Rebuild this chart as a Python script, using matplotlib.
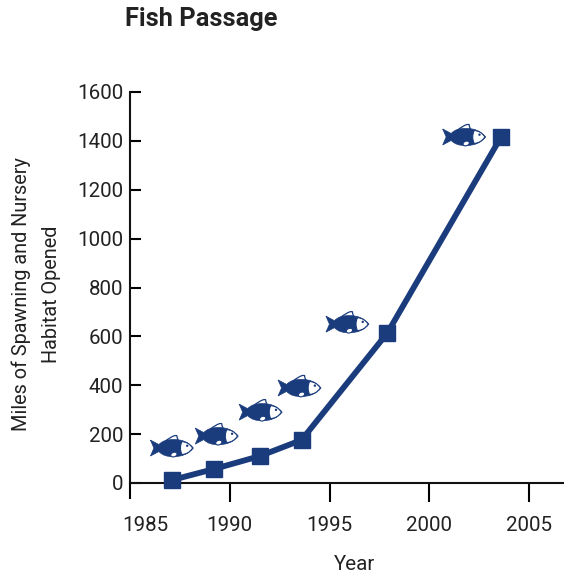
import matplotlib
matplotlib.use('Agg')
from matplotlib import pyplot as plt
from matplotlib.patches import PathPatch, Ellipse
from matplotlib.path import Path
from matplotlib.transforms import Affine2D, ScaledTranslation

# data
years = [1987.1, 1989.2, 1991.5, 1993.6, 1997.9, 2003.6]
miles = [12, 57, 110, 176, 614, 1416]
fish_years = [1987.1, 1989.35, 1991.55, 1993.5, 1995.9, 2001.75]
fish_miles = [143, 192, 290, 389, 650, 1416]
x_ticks = [1985, 1990, 1995, 2000, 2005]
y_ticks = [0, 200, 400, 600, 800, 1000, 1200, 1400, 1600]

NAVY = '#1a3c7c'
TEXT = '#222222'
plt.rcParams['font.family'] = ['Roboto', 'DejaVu Sans']

fig = plt.figure(figsize=(5.64, 5.75), dpi=100)
W, H = 564, 575
left, right, top, bottom = 130, 563, 92, 483
ax = fig.add_axes([left/W, 1-bottom/H, (right-left)/W, (bottom-top)/H])
ax.set_xlim(1985, 1985+(right-left)/19.95)
ax.set_ylim(0, 1600)

ax.plot(years, miles, color=NAVY, lw=4.2, marker='s', ms=11.5, mec=NAVY,
        clip_on=False, zorder=5, solid_joinstyle='miter')

for s in ['top', 'right']:
    ax.spines[s].set_visible(False)
for s in ['left', 'bottom']:
    ax.spines[s].set_linewidth(1.5)
ax.spines['bottom'].set_color('#111111')
ax.spines['left'].set_color('#111111')

ax.set_xticks(x_ticks)
ax.set_yticks(y_ticks)
ax.tick_params(axis='x', direction='out', length=13.5, width=1.5, pad=10, labelsize=14.8, labelcolor=TEXT)
ax.tick_params(axis='y', direction='in', length=8, width=1.5, pad=5, labelsize=14.8, labelcolor=TEXT)
ax.xaxis.get_major_ticks()[0].tick1line.set_markersize(11.5)

# 1985 label sits to the right of its tick in the original
lab = ax.get_xticklabels()[0]
lab.set_transform(lab.get_transform() + ScaledTranslation(15/100, 0, fig.dpi_scale_trans))

fig.text(125/W, 1-19/H, 'Fish Passage', fontsize=18.3, fontweight='bold', color=TEXT,
         ha='left', va='center')
fig.text(355/W, 1-564/H, 'Year', fontsize=14.8, color=TEXT, ha='center', va='center')
fig.text(36/W, 1-294/H, 'Miles of Spawning and Nursery\nHabitat Opened', fontsize=14.3, color=TEXT,
         rotation=90, ha='center', va='center', linespacing=1.75, multialignment='center')

# fish glyph, units are pixels around the centre of the fish
C = Path.CURVE3
M = Path.MOVETO
L = Path.LINETO
body = Path(
    [(-21.5, 8), (-18, 0), (-21.5, -8), (-13, -3.5), (-8, -9), (2, -8.5),
     (14, -9), (21.5, 0), (14, 9), (2, 8.5), (-8, 9), (-13, 3.5), (-21.5, 8)],
    [M, L, L, L, C, C, C, C, C, C, C, C, L])
head = Path(
    [(10, 6.5), (17, 6), (20.7, 0), (17, -6), (10, -6.5), (7, 0), (10, 6.5)],
    [M, C, C, C, C, C, C])
dorsal = Path(
    [(-7, 6.5), (-2, 11), (3, 12.5), (5, 12.5), (5, 9), (7.5, 6), (-7, 6.5)],
    [M, C, C, L, C, C, L])


def draw_fish(x, y):
    # pixels to data units, so the glyph keeps its shape
    sx = (ax.get_xlim()[1]-ax.get_xlim()[0])/(right-left)
    sy = (ax.get_ylim()[1]-ax.get_ylim()[0])/(bottom-top)
    tf = Affine2D().scale(sx, sy).translate(x, y) + ax.transData
    ax.add_patch(PathPatch(dorsal, fc='white', ec=NAVY, lw=0.9, transform=tf, zorder=3, clip_on=False))
    ax.add_patch(PathPatch(body, fc=NAVY, ec=NAVY, lw=0.5, transform=tf, zorder=4, clip_on=False))
    ax.add_patch(PathPatch(head, fc='white', ec=NAVY, lw=0.8, transform=tf, zorder=4, clip_on=False))
    ax.add_patch(Ellipse((15.3, 2.3), 2.4, 2.4, fc=NAVY, ec='none', transform=tf, zorder=4.2, clip_on=False))
    ax.add_patch(Ellipse((2, -6.5), 6.5, 4.5, angle=20, fc='white', ec=NAVY, lw=0.8, transform=tf, zorder=4.1, clip_on=False))


for fx, fy in zip(fish_years, fish_miles):
    draw_fish(fx, fy)

fig.savefig('out.png', dpi=100)
